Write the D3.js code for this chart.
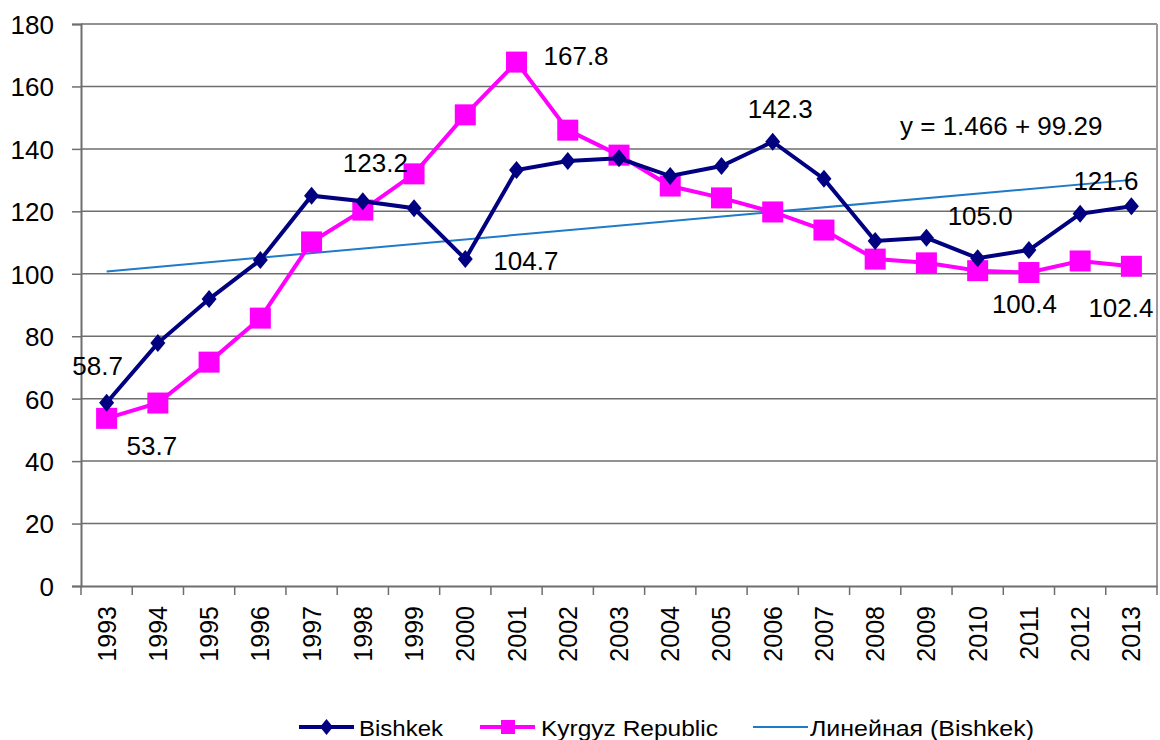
<!DOCTYPE html>
<html><head><meta charset="utf-8">
<script src="https://cdn.jsdelivr.net/npm/d3@7"></script>
<style>body{margin:0;background:#fff}svg{display:block}text{font-family:"Liberation Sans",Arial,sans-serif;fill:#000}</style>
</head><body>
<svg id="c" width="1160" height="740"></svg>
<script>
const years = ["1993","1994","1995","1996","1997","1998","1999","2000","2001","2002","2003","2004","2005","2006","2007","2008","2009","2010","2011","2012","2013"];
const bishkek = [58.7,77.8,91.9,104.4,125.0,123.2,121.0,104.7,133.2,136.1,137.0,131.3,134.5,142.3,130.4,110.5,111.5,105.0,107.6,119.2,121.6];
const kyrgyz = [53.7,58.6,71.7,85.8,110.2,120.4,132.0,150.9,167.8,146.0,138.0,128.1,124.3,119.8,114.0,104.7,103.5,101.0,100.4,104.1,102.4];
const yTicks = [0,20,40,60,80,100,120,140,160,180];
const trendSlope = 1.466, trendIntercept = 99.29;
const trendLabel = "y = 1.466 + 99.29";
const seriesNames = ["Bishkek","Kyrgyz Republic","Линейная  (Bishkek)"];
// data labels: [series, year index, text]
const labelSeries = ["b","k","b","b","k","b","b","k","k","b"];
const labelIdx = [0,0,5,7,8,13,17,18,20,20];
const labelOff = [[-9,-28,"middle"],[20,37,"start"],[-20,-29,"start"],[28,11,"start"],[27,3,"start"],[-25,-24,"start"],[-30,-33,"start"],[-37,40,"start"],[-43,51,"start"],[-58,-16,"start"]];

const svg = d3.select("#c");
const L=81,R=1157,T=24,B=586;
const x = d3.scaleBand().domain(years).range([L,R]);
const y = d3.scaleLinear().domain([0,180]).range([B,T]);
const cx = d => x(d)+x.bandwidth()/2;

// gridlines
svg.append("g").selectAll("line").data(yTicks.filter(t=>t>0)).join("line")
  .attr("x1",L).attr("x2",R).attr("y1",d=>y(d)).attr("y2",d=>y(d))
  .attr("stroke","#6e6e6e").attr("stroke-width",1.5);
// right border
svg.append("line").attr("x1",R).attr("x2",R).attr("y1",T).attr("y2",B).attr("stroke","#9a9a9a").attr("stroke-width",2);

// y axis
const ya = svg.append("g").attr("transform",`translate(${L},0)`)
  .call(d3.axisLeft(y).tickValues(yTicks).tickSize(9).tickPadding(18).tickFormat(d3.format("d")));
ya.select(".domain").attr("stroke","#6e6e6e").attr("stroke-width",2);
ya.selectAll(".tick line").attr("stroke","#6e6e6e").attr("stroke-width",1.5);
ya.selectAll("text").style("font-size","26px").attr("dy","0.36em");

// x axis
const xa = svg.append("g").attr("transform",`translate(0,${B})`)
  .call(d3.axisBottom(x).tickSize(0).tickFormat(""));
xa.select(".domain").attr("stroke","#6e6e6e").attr("stroke-width",2);
svg.append("g").selectAll("line").data(d3.range(years.length+1)).join("line")
  .attr("x1",i=>L+i*x.step()).attr("x2",i=>L+i*x.step()).attr("y1",B).attr("y2",B+9)
  .attr("stroke","#6e6e6e").attr("stroke-width",1.5);
svg.append("g").selectAll("text").data(years).join("text")
  .attr("transform",d=>`translate(${cx(d)},${B+20}) rotate(-90)`)
  .attr("text-anchor","end").attr("dy","0.36em").style("font-size","25px").text(d=>d);

// trend line
const first = 1, last = years.length;
svg.append("line")
  .attr("x1",cx(years[0])).attr("y1",y(trendSlope*first+trendIntercept))
  .attr("x2",cx(years[years.length-1])).attr("y2",y(trendSlope*last+trendIntercept))
  .attr("stroke","#1f7ac8").attr("stroke-width",2);

const line = d3.line().x((d,i)=>cx(years[i])).y(d=>y(d));
// Kyrgyz
svg.append("path").datum(kyrgyz).attr("d",line).attr("fill","none").attr("stroke","#ff00ff").attr("stroke-width",4);
svg.append("g").selectAll("rect").data(kyrgyz).join("rect")
  .attr("x",(d,i)=>cx(years[i])-10.5).attr("y",d=>y(d)-10.5).attr("width",21).attr("height",21).attr("fill","#ff00ff");
// Bishkek
svg.append("path").datum(bishkek).attr("d",line).attr("fill","none").attr("stroke","#000080").attr("stroke-width",4);
const diamond = "M0,-9L7.5,0L0,9L-7.5,0Z";
svg.append("g").selectAll("path").data(bishkek).join("path")
  .attr("transform",(d,i)=>`translate(${cx(years[i])},${y(d)})`).attr("d",diamond).attr("fill","#000080");

// data labels
svg.append("g").selectAll("text").data(labelIdx).join("text")
  .each(function(idx,j){
    const v = labelSeries[j]==="b" ? bishkek[idx] : kyrgyz[idx];
    const o = labelOff[j];
    d3.select(this).attr("x",cx(years[idx])+o[0]).attr("y",y(v)+o[1]).attr("text-anchor",o[2]).text(v.toFixed(1));
  }).style("font-size","26px");

// equation
svg.append("text").attr("x",900).attr("y",135).style("font-size","26px").text(trendLabel);

// legend
const lg = svg.append("g").attr("transform","translate(0,727)");
const lgX = [299,480,753], lgTx=[359,541,810], lgW=[84,177,224];
const lgCol = ["#000080","#ff00ff","#1f7ac8"], lgSw=[4,4,2];
seriesNames.forEach((n,i)=>{
  lg.append("line").attr("x1",lgX[i]).attr("x2",lgX[i]+55).attr("stroke",lgCol[i]).attr("stroke-width",lgSw[i]);
  if(i===0) lg.append("path").attr("transform",`translate(${lgX[i]+27.5},0)`).attr("d","M0,-8L6.5,0L0,8L-6.5,0Z").attr("fill",lgCol[i]);
  if(i===1) lg.append("rect").attr("x",lgX[i]+21).attr("y",-7).attr("width",14).attr("height",14).attr("fill",lgCol[i]);
  lg.append("text").attr("x",lgTx[i]).attr("y",5).attr("dy","0.2em").style("font-size","22px")
    .attr("textLength",lgW[i]).attr("lengthAdjust","spacingAndGlyphs").text(n);
});
</script>
</body></html>
